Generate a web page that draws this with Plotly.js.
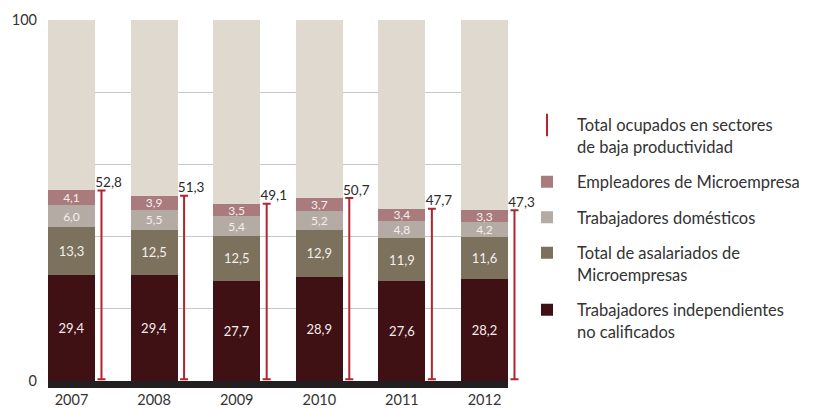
<!DOCTYPE html>
<html>
<head>
<meta charset="utf-8">
<script src="https://cdn.plot.ly/plotly-3.0.1.min.js"></script>
<style>html,body{margin:0;padding:0;background:#fff;}#chart{width:813px;height:409px;}</style>
</head>
<body>
<div id="chart"></div>
<script>
const years = ["2007", "2008", "2009", "2010", "2011", "2012"];
const independientes = [29.4, 29.4, 27.7, 28.9, 27.6, 28.2];
const asalariados = [13.3, 12.5, 12.5, 12.9, 11.9, 11.6];
const domesticos = [6.0, 5.5, 5.4, 5.2, 4.8, 4.2];
const empleadores = [4.1, 3.9, 3.5, 3.7, 3.4, 3.3];
const resto = [47.2, 48.7, 50.9, 49.3, 52.3, 52.7];
const totales = [52.8, 51.3, 49.1, 50.7, 47.7, 47.3];

const names = {
  ind: "Trabajadores independientes<br>no calificados",
  asa: "Total de asalariados de<br>Microempresas",
  dom: "Trabajadores domésticos",
  emp: "Empleadores de Microempresa",
  tot: "Total ocupados en sectores<br>de baja productividad"
};

const idx = years.map((_, i) => i);
const barW = 0.569;
const errOffset = 0.363;
const textOffset = 0.085;
const W = 813, H = 409;
const mL = 48, mR = 268, mT = 20, mB = 28;
const barAreaPx = 460;
const plotPx = W - mL - mR;
const D = barAreaPx / plotPx;
const x0 = -barW / 2, x1 = 5 + barW / 2;
const x2end = x0 + (x1 - x0) / D;

const font = "Lato, 'Open Sans', sans-serif";

function barTrace(vals, name, color, rank, labelSize, showLegend) {
  const showText = labelSize > 0;
  const lf = {family: font, size: labelSize || 12, color: "#f4eeee"};
  return {
    type: "bar", x: idx, y: vals, name: name, width: barW,
    xaxis: "x", yaxis: "y",
    marker: {color: color, line: {width: 0}},
    text: showText ? vals : undefined,
    texttemplate: showText ? "%{y:.1f}" : undefined,
    textposition: showText ? "inside" : "none",
    insidetextanchor: "middle",
    constraintext: "none",
    textfont: lf, insidetextfont: lf,
    hoverinfo: "skip",
    legendrank: rank, legendgroup: "g" + rank,
    showlegend: showLegend
  };
}

const traces = [
  barTrace(independientes, names.ind, "#3f1014", 5, 13, true),
  barTrace(asalariados, names.asa, "#7b715c", 4, 13, true),
  barTrace(domesticos, names.dom, "#b4aba4", 3, 12, true),
  barTrace(empleadores, names.emp, "#a97b7d", 2, 12, true),
  barTrace(resto, "resto", "#e0d9cf", 9, 0, false),
  {
    type: "scatter", mode: "markers", xaxis: "x2", yaxis: "y2",
    x: idx.map(i => i + errOffset), y: totales,
    marker: {size: 1, opacity: 0},
    error_y: {type: "data", symmetric: false, array: totales.map(() => 0), arrayminus: totales.map(t => t - 0.5),
              color: "#b3242e", thickness: 2, width: 4},
    showlegend: false, hoverinfo: "skip", cliponaxis: false
  },
  {
    type: "scatter", mode: "text", xaxis: "x2", yaxis: "y2",
    x: idx.map(i => i + errOffset + textOffset), y: totales,
    text: totales, texttemplate: "%{y:.1f}",
    textposition: "top center",
    textfont: {family: font, size: 13.5, color: "#2a2a2a"},
    showlegend: false, hoverinfo: "skip", cliponaxis: false
  },
  {
    type: "scatter", mode: "markers", x: [null], y: [null], name: names.tot,
    xaxis: "x2", yaxis: "y2",
    marker: {symbol: "line-ns-open", size: 24, color: "#b3242e", line: {color: "#b3242e", width: 2}},
    legendrank: 1, legendgroup: "g1", showlegend: true, hoverinfo: "skip"
  }
];

const layout = {
  width: W, height: H,
  margin: {l: mL, r: mR, t: mT, b: mB, pad: 0, autoexpand: false},
  paper_bgcolor: "#ffffff", plot_bgcolor: "rgba(0,0,0,0)",
  barmode: "stack",
  separators: ",.",
  font: {family: font, color: "#333333"},
  xaxis: {
    domain: [0, D], anchor: "y",
    range: [x0, x1], tickvals: idx, ticktext: years,
    showgrid: false, zeroline: false, showline: true, linecolor: "#231f20", linewidth: 7,
    ticks: "", tickfont: {family: font, size: 14.5, color: "#333333"}, fixedrange: true
  },
  yaxis: {
    domain: [0, 1], anchor: "x",
    range: [0, 100], tickvals: [0, 100], ticktext: ["0", "100"],
    showgrid: true, gridcolor: "#c8c8c8", gridwidth: 1, zeroline: false,
    minor: {dtick: 20, tick0: 0, showgrid: true, gridcolor: "#c8c8c8", gridwidth: 1, ticks: ""},
    ticks: "", ticklabelstandoff: 10,
    tickfont: {family: font, size: 14.5, color: "#333333"}, fixedrange: true
  },
  xaxis2: {domain: [0, 1], anchor: "y2", range: [x0, x2end], visible: false, fixedrange: true},
  yaxis2: {domain: [0, 1], anchor: "x2", range: [0, 100], visible: false, fixedrange: true},
  legend: {
    x: (517 - mL) / plotPx, y: 0.757, xanchor: "left", yanchor: "top",
    traceorder: "grouped", tracegroupgap: 11, itemwidth: 50, valign: "top",
    font: {family: font, size: 16.5, color: "#333333"},
    bgcolor: "rgba(0,0,0,0)"
  },
  showlegend: true
};

Plotly.newPlot("chart", traces, layout, {staticPlot: true, displayModeBar: false});
</script>
</body>
</html>
